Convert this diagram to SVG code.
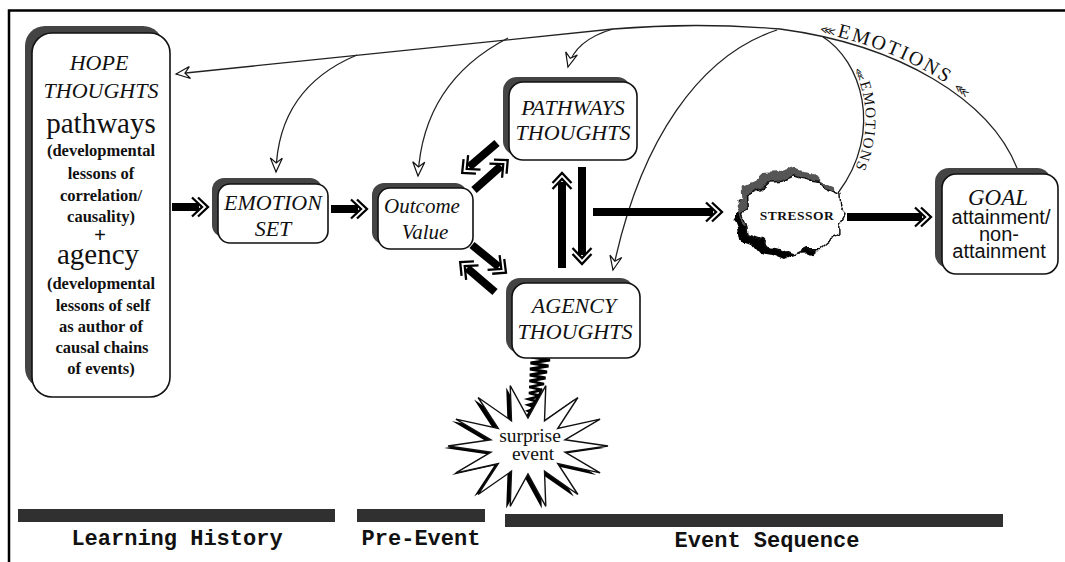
<svg xmlns="http://www.w3.org/2000/svg" width="1065" height="562" viewBox="0 0 1065 562">
<style>
.serif{font-family:"Liberation Serif","Times New Roman",serif;fill:#111}
.it{font-style:italic}
.b{font-weight:bold}
.sans{font-family:"Liberation Sans",Arial,sans-serif;fill:#111}
.mono{font-family:"Liberation Mono","Courier New",monospace;font-weight:bold;fill:#111}
.box{fill:#fff;stroke:#111;stroke-width:1.6}
.shadow{fill:#444}
.thin{fill:none;stroke:#222;stroke-width:1.3}
.thick{fill:none;stroke:#000;stroke-width:8}
.bar{fill:#303030}
</style>
<defs>
<marker id="ah" markerUnits="userSpaceOnUse" viewBox="-15 -8 17 16" markerWidth="17" markerHeight="16" refX="0" refY="0" orient="auto" overflow="visible">
<path d="M0,0 L-14,-6 L-9,0 L-14,6 Z" fill="#fff" stroke="#111" stroke-width="1.2" stroke-linejoin="miter"/>
</marker>
<marker id="dh" markerUnits="userSpaceOnUse" viewBox="-12 -12 26 24" markerWidth="26" markerHeight="24" refX="0" refY="0" orient="auto" overflow="visible">
<path d="M-7,-9.5 L3,0 L-7,9.5 M-1,-9.5 L9,0 L-1,9.5" fill="none" stroke="#000" stroke-width="2.3"/>
</marker>
<filter id="rough" x="-20%" y="-25%" width="140%" height="150%">
<feTurbulence type="fractalNoise" baseFrequency="0.1" numOctaves="1" seed="7" result="n"/>
<feDisplacementMap in="SourceGraphic" in2="n" scale="9" xChannelSelector="R" yChannelSelector="G"/>
</filter>
<path id="emoPath" d="M776,25 C 900,41 988,95 1014,162"/>
<path id="emoPath2" d="M825,36 C 862,60 887,130 840,194"/>
<polygon id="cloud" points="845,215 839.8,224.2 839.9,234.8 828.6,240.8 820,248.6 806.2,248.8 794,254.9 781.5,249.9 768.5,247.9 761.2,239.4 748.1,234.8 746.2,224.5 742.5,215 748.2,205.8 747.6,195 760.1,189.7 768.5,182.1 781.8,181.2 794,175.9 806.7,179.8 820,181.4 827.5,190 839.9,195.2 840.8,205.7"/>
</defs>

<!-- frame -->
<path d="M9,562 L9,10.5 L1065,10.5" fill="none" stroke="#000" stroke-width="2.5"/>

<!-- connectors -->
<g id="connectors">
<path class="thin" d="M1017,168 C 990,100 900,45 780,29 C 720,24 660,25 613,29 L 176,74" marker-end="url(#ah)"/>
<path class="thin" d="M357,55 Q 278,88 276,172" marker-end="url(#ah)"/>
<path class="thin" d="M508,38 Q 423,82 418,176" marker-end="url(#ah)"/>
<path class="thin" d="M613,29 Q 575,40 568,67" marker-end="url(#ah)"/>
<path class="thin" d="M777,30 C 700,55 640,140 613,270" marker-end="url(#ah)"/>
<path class="thin" d="M823,37 C 860,60 885,130 838,193"/>
<text class="serif" font-size="20" letter-spacing="2.2"><textPath href="#emoPath" startOffset="44"><tspan font-family="DejaVu Sans" font-size="11">⋘</tspan>EMOTIONS <tspan font-family="DejaVu Sans" font-size="11">⋘</tspan></textPath></text>
<text class="serif" font-size="15" letter-spacing="1.4"><textPath href="#emoPath2" startOffset="45"><tspan font-family="DejaVu Sans" font-size="9">⋘</tspan>EMOTIONS</textPath></text>

<path class="thick" d="M172,207 L199,207" marker-end="url(#dh)"/>
<path class="thick" d="M331,209 L358,209" marker-end="url(#dh)"/>
<path class="thick" d="M474,190 L501,166" marker-end="url(#dh)"/>
<path class="thick" d="M497,143 L469,167" marker-end="url(#dh)"/>
<path class="thick" d="M472,245 L499,267" marker-end="url(#dh)"/>
<path class="thick" d="M495,292 L467,268" marker-end="url(#dh)"/>
<path class="thick" d="M562,268 L562,182" marker-end="url(#dh)"/>
<path class="thick" d="M582,167 L582,255" marker-end="url(#dh)"/>
<path class="thick" d="M593,212 L713,212" marker-end="url(#dh)"/>
<path class="thick" d="M847,217 L922,217" marker-end="url(#dh)"/>
<polyline points="531,357 550,360 530.5,363 548.5,366 530,369 547,372 529.8,375 545.5,378 529.5,381 544,384 529.3,387 542.2,390 529,393 540.4,396 528.8,399 538.6,402 528.6,405 536.6,408 528.4,411 534.4,414 528.3,417 531.8,420 528.5,423" fill="none" stroke="#000" stroke-width="2.8" stroke-linejoin="miter"/>
</g>

<!-- nodes -->
<g id="hope">
<rect class="shadow" x="25" y="26" width="138" height="362" rx="20"/>
<rect class="box" x="32" y="33" width="138" height="364" rx="20"/>
<g class="serif" text-anchor="middle">
<text class="it" x="99" y="70" font-size="22">HOPE</text>
<text class="it" x="101" y="98" font-size="22">THOUGHTS</text>
<text x="101" y="133" font-size="29">pathways</text>
<g class="b" font-size="16.5">
<text x="101" y="156">(developmental</text>
<text x="101" y="179">lessons of</text>
<text x="101" y="201">correlation/</text>
<text x="101" y="222">causality)</text>
</g>
<text class="b" x="100" y="242" font-size="21">+</text>
<text x="98" y="264" font-size="29">agency</text>
<g class="b" font-size="16.5">
<text x="101" y="289">(developmental</text>
<text x="103" y="311">lessons of self</text>
<text x="101" y="332">as author of</text>
<text x="102" y="353">causal chains</text>
<text x="101" y="374">of events)</text>
</g>
</g>
</g>

<g id="emotion-set">
<rect class="shadow" x="212" y="178" width="110" height="59" rx="12"/>
<rect class="box" x="218" y="184" width="110" height="59" rx="12"/>
<text class="serif it" x="273" y="210" font-size="22" text-anchor="middle">EMOTION</text>
<text class="serif it" x="273" y="236" font-size="22" text-anchor="middle">SET</text>
</g>

<g id="outcome-value">
<rect class="shadow" x="372" y="183" width="95" height="61" rx="12"/>
<rect class="box" x="378" y="188" width="95" height="61" rx="12"/>
<text class="serif it" x="422" y="213" font-size="21" text-anchor="middle">Outcome</text>
<text class="serif it" x="425" y="239" font-size="21" text-anchor="middle">Value</text>
</g>

<g id="pathways-thoughts">
<rect class="shadow" x="503" y="77" width="128" height="78" rx="14"/>
<rect class="box" x="509" y="82" width="128" height="78" rx="14"/>
<text class="serif it" x="573" y="115" font-size="22" text-anchor="middle">PATHWAYS</text>
<text class="serif it" x="573" y="140" font-size="22" text-anchor="middle">THOUGHTS</text>
</g>

<g id="agency-thoughts">
<rect class="shadow" x="506" y="278" width="128" height="75" rx="14"/>
<rect class="box" x="512" y="283" width="128" height="75" rx="14"/>
<text class="serif it" x="574" y="313" font-size="22" text-anchor="middle">AGENCY</text>
<text class="serif it" x="575" y="339" font-size="22" text-anchor="middle">THOUGHTS</text>
</g>

<g id="stressor">
<g filter="url(#rough)">
<use href="#cloud" transform="translate(-9,5)" fill="#000"/>
<use href="#cloud" transform="translate(-6,-9)" fill="#555"/>
<use href="#cloud" fill="#fff" stroke="#111" stroke-width="1.5"/>
</g>
<text class="serif b" x="797" y="220" font-size="13.5" text-anchor="middle" letter-spacing="0.5">STRESSOR</text>
</g>

<g id="goal">
<rect class="shadow" x="935" y="168" width="116" height="100" rx="14"/>
<rect class="box" x="942" y="174" width="116" height="100" rx="14"/>
<text class="serif it" x="998" y="205" font-size="23" text-anchor="middle">GOAL</text>
<text class="sans" x="1001" y="224" font-size="20" text-anchor="middle">attainment/</text>
<text class="sans" x="999" y="241" font-size="20" text-anchor="middle">non-</text>
<text class="sans" x="999" y="258" font-size="20" text-anchor="middle">attainment</text>
</g>

<g id="surprise-event">
<polygon transform="translate(-4,2)" fill="#000" points="528,418 545.8,385.6 544.5,420.8 577.9,397.5 557.7,428.5 600.1,419.1 565,439.8 608,446 565,452.2 600.1,472.9 557.7,463.5 577.9,494.5 544.5,471.2 545.8,506.4 528,474 510.2,506.4 511.5,471.2 478.1,494.5 498.3,463.5 455.9,472.9 491,452.2 448,446 491,439.8 455.9,419.1 498.3,428.5 478.1,397.5 511.5,420.8 510.2,385.6"/>
<polygon fill="#fff" stroke="#111" stroke-width="1.4" points="528,418 545.8,385.6 544.5,420.8 577.9,397.5 557.7,428.5 600.1,419.1 565,439.8 608,446 565,452.2 600.1,472.9 557.7,463.5 577.9,494.5 544.5,471.2 545.8,506.4 528,474 510.2,506.4 511.5,471.2 478.1,494.5 498.3,463.5 455.9,472.9 491,452.2 448,446 491,439.8 455.9,419.1 498.3,428.5 478.1,397.5 511.5,420.8 510.2,385.6"/>
<text class="serif" x="530" y="442" font-size="19.5" text-anchor="middle">surprise</text>
<text class="serif" x="533" y="460" font-size="19.5" text-anchor="middle">event</text>
</g>

<g id="timeline">
<rect class="bar" x="18" y="509" width="317" height="13"/>
<rect class="bar" x="357" y="509" width="128" height="13"/>
<rect class="bar" x="505" y="514" width="498" height="13"/>
<text class="mono" x="177" y="545" font-size="22" text-anchor="middle">Learning History</text>
<text class="mono" x="421" y="545" font-size="22" text-anchor="middle">Pre-Event</text>
<text class="mono" x="767" y="547" font-size="22" text-anchor="middle">Event Sequence</text>
</g>
</svg>
